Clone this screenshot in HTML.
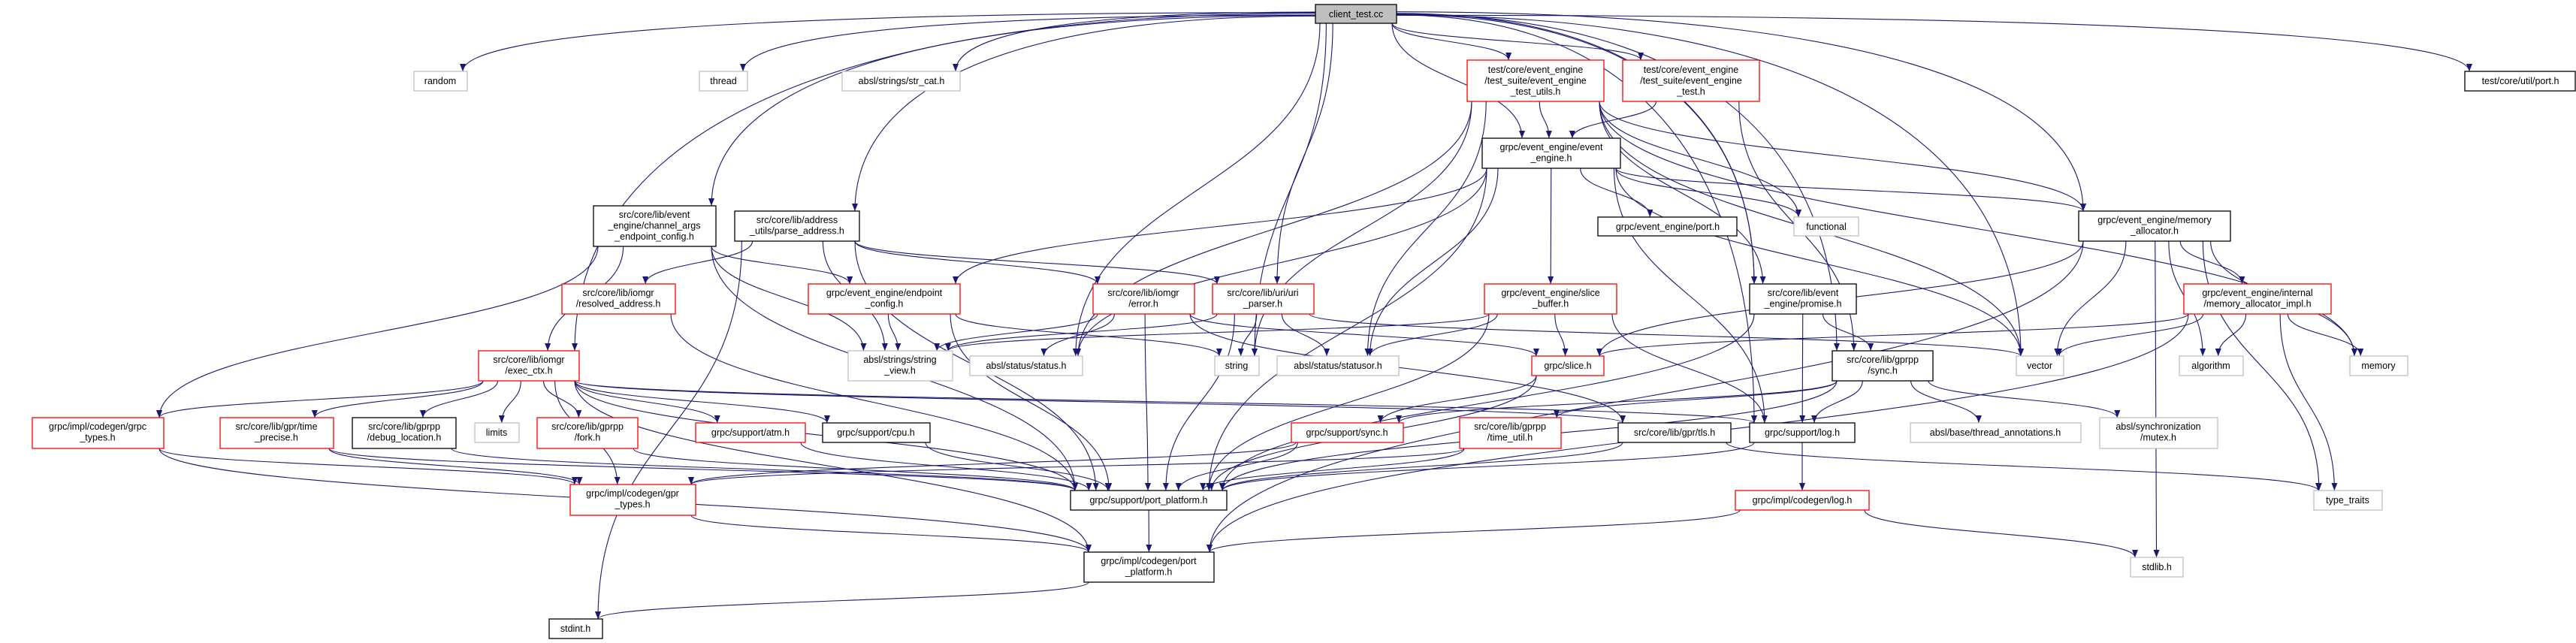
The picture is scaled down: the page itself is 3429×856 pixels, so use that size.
<!DOCTYPE html>
<html><head><meta charset="utf-8"><style>
html,body{margin:0;padding:0;background:#fff;}
svg{display:block;}
text{font-family:"Liberation Sans","DejaVu Sans",sans-serif;font-size:12.5px;fill:#000;}
.r{fill:#fff;stroke:#ff0000;stroke-width:1.3}
.b{fill:#fff;stroke:#000;stroke-width:1.3}
.g{fill:#fff;stroke:#bfbfbf;stroke-width:1.3}
.c{fill:#bfbfbf;stroke:#000;stroke-width:1.3}
</style></head><body>
<svg id="s" width="3429" height="856" viewBox="0 0 3429 856" xmlns="http://www.w3.org/2000/svg">
<defs><marker id="a" markerWidth="10" markerHeight="8" refX="10" refY="4" orient="auto" markerUnits="userSpaceOnUse"><path d="M0,0 L10,4 L0,8z" fill="#191970"/></marker></defs>
<g id="edges" fill="none" stroke="#191970" stroke-width="1.1"></g>
<g id="nodes">
<rect class="c" x="1751" y="6" width="108" height="25"/><text x="1805" y="23" text-anchor="middle">client_test.cc</text>
<rect class="g" x="551" y="95" width="71" height="26"/><text x="586" y="112" text-anchor="middle">random</text>
<rect class="g" x="931" y="95" width="64" height="26"/><text x="963" y="112" text-anchor="middle">thread</text>
<rect class="g" x="1121" y="95" width="157" height="26"/><text x="1200" y="112" text-anchor="middle">absl/strings/str_cat.h</text>
<rect class="b" x="3281" y="95" width="147" height="26"/><text x="3355" y="112" text-anchor="middle">test/core/util/port.h</text>
<rect class="r" x="1953" y="80" width="182" height="55"/><text x="2044" y="97" text-anchor="middle"><tspan x="2044">test/core/event_engine</tspan><tspan x="2044" dy="14.5">/test_suite/event_engine</tspan><tspan x="2044" dy="14.5">_test_utils.h</tspan></text>
<rect class="r" x="2160" y="80" width="182" height="55"/><text x="2251" y="97" text-anchor="middle"><tspan x="2251">test/core/event_engine</tspan><tspan x="2251" dy="14.5">/test_suite/event_engine</tspan><tspan x="2251" dy="14.5">_test.h</tspan></text>
<rect class="b" x="1973" y="184" width="184" height="40"/><text x="2065" y="200" text-anchor="middle"><tspan x="2065">grpc/event_engine/event</tspan><tspan x="2065" dy="14.5">_engine.h</tspan></text>
<rect class="b" x="790" y="274" width="163" height="54"/><text x="871" y="290" text-anchor="middle"><tspan x="871">src/core/lib/event</tspan><tspan x="871" dy="14.5">_engine/channel_args</tspan><tspan x="871" dy="14.5">_endpoint_config.h</tspan></text>
<rect class="b" x="978" y="281" width="166" height="40"/><text x="1061" y="297" text-anchor="middle"><tspan x="1061">src/core/lib/address</tspan><tspan x="1061" dy="14.5">_utils/parse_address.h</tspan></text>
<rect class="b" x="2127" y="289" width="185" height="25"/><text x="2220" y="306" text-anchor="middle">grpc/event_engine/port.h</text>
<rect class="g" x="2388" y="289" width="86" height="25"/><text x="2431" y="306" text-anchor="middle">functional</text>
<rect class="b" x="2767" y="281" width="202" height="40"/><text x="2868" y="297" text-anchor="middle"><tspan x="2868">grpc/event_engine/memory</tspan><tspan x="2868" dy="14.5">_allocator.h</tspan></text>
<rect class="r" x="748" y="378" width="151" height="40"/><text x="823" y="394" text-anchor="middle"><tspan x="823">src/core/lib/iomgr</tspan><tspan x="823" dy="14.5">/resolved_address.h</tspan></text>
<rect class="r" x="1076" y="378" width="202" height="40"/><text x="1177" y="394" text-anchor="middle"><tspan x="1177">grpc/event_engine/endpoint</tspan><tspan x="1177" dy="14.5">_config.h</tspan></text>
<rect class="r" x="1455" y="378" width="135" height="40"/><text x="1522" y="394" text-anchor="middle"><tspan x="1522">src/core/lib/iomgr</tspan><tspan x="1522" dy="14.5">/error.h</tspan></text>
<rect class="r" x="1614" y="378" width="135" height="40"/><text x="1681" y="394" text-anchor="middle"><tspan x="1681">src/core/lib/uri/uri</tspan><tspan x="1681" dy="14.5">_parser.h</tspan></text>
<rect class="r" x="1976" y="378" width="176" height="40"/><text x="2064" y="394" text-anchor="middle"><tspan x="2064">grpc/event_engine/slice</tspan><tspan x="2064" dy="14.5">_buffer.h</tspan></text>
<rect class="b" x="2329" y="378" width="142" height="40"/><text x="2400" y="394" text-anchor="middle"><tspan x="2400">src/core/lib/event</tspan><tspan x="2400" dy="14.5">_engine/promise.h</tspan></text>
<rect class="r" x="2907" y="378" width="196" height="40"/><text x="3005" y="394" text-anchor="middle"><tspan x="3005">grpc/event_engine/internal</tspan><tspan x="3005" dy="14.5">/memory_allocator_impl.h</tspan></text>
<rect class="r" x="637" y="467" width="134" height="40"/><text x="704" y="483" text-anchor="middle"><tspan x="704">src/core/lib/iomgr</tspan><tspan x="704" dy="14.5">/exec_ctx.h</tspan></text>
<rect class="g" x="1129" y="467" width="139" height="40"/><text x="1198" y="483" text-anchor="middle"><tspan x="1198">absl/strings/string</tspan><tspan x="1198" dy="14.5">_view.h</tspan></text>
<rect class="g" x="1291" y="474" width="150" height="26"/><text x="1366" y="491" text-anchor="middle">absl/status/status.h</text>
<rect class="g" x="1617" y="474" width="59" height="26"/><text x="1646" y="491" text-anchor="middle">string</text>
<rect class="g" x="1700" y="474" width="162" height="26"/><text x="1781" y="491" text-anchor="middle">absl/status/statusor.h</text>
<rect class="r" x="2039" y="474" width="96" height="26"/><text x="2087" y="491" text-anchor="middle">grpc/slice.h</text>
<rect class="b" x="2439" y="467" width="134" height="40"/><text x="2506" y="483" text-anchor="middle"><tspan x="2506">src/core/lib/gprpp</tspan><tspan x="2506" dy="14.5">/sync.h</tspan></text>
<rect class="g" x="2684" y="474" width="63" height="26"/><text x="2715" y="491" text-anchor="middle">vector</text>
<rect class="g" x="2901" y="474" width="85" height="26"/><text x="2943" y="491" text-anchor="middle">algorithm</text>
<rect class="g" x="3128" y="474" width="77" height="26"/><text x="3166" y="491" text-anchor="middle">memory</text>
<rect class="r" x="43" y="556" width="175" height="41"/><text x="130" y="572" text-anchor="middle"><tspan x="130">grpc/impl/codegen/grpc</tspan><tspan x="130" dy="14.5">_types.h</tspan></text>
<rect class="r" x="293" y="556" width="151" height="41"/><text x="368" y="572" text-anchor="middle"><tspan x="368">src/core/lib/gpr/time</tspan><tspan x="368" dy="14.5">_precise.h</tspan></text>
<rect class="b" x="469" y="556" width="138" height="41"/><text x="538" y="572" text-anchor="middle"><tspan x="538">src/core/lib/gprpp</tspan><tspan x="538" dy="14.5">/debug_location.h</tspan></text>
<rect class="g" x="632" y="563" width="59" height="26"/><text x="661" y="580" text-anchor="middle">limits</text>
<rect class="r" x="715" y="556" width="134" height="41"/><text x="782" y="572" text-anchor="middle"><tspan x="782">src/core/lib/gprpp</tspan><tspan x="782" dy="14.5">/fork.h</tspan></text>
<rect class="r" x="926" y="563" width="146" height="26"/><text x="999" y="580" text-anchor="middle">grpc/support/atm.h</text>
<rect class="b" x="1095" y="563" width="143" height="26"/><text x="1166" y="580" text-anchor="middle">grpc/support/cpu.h</text>
<rect class="r" x="1719" y="563" width="149" height="26"/><text x="1793" y="580" text-anchor="middle">grpc/support/sync.h</text>
<rect class="r" x="1943" y="556" width="135" height="41"/><text x="2010" y="572" text-anchor="middle"><tspan x="2010">src/core/lib/gprpp</tspan><tspan x="2010" dy="14.5">/time_util.h</tspan></text>
<rect class="b" x="2154" y="563" width="150" height="26"/><text x="2229" y="580" text-anchor="middle">src/core/lib/gpr/tls.h</text>
<rect class="b" x="2329" y="563" width="140" height="26"/><text x="2399" y="580" text-anchor="middle">grpc/support/log.h</text>
<rect class="g" x="2543" y="563" width="227" height="26"/><text x="2656" y="580" text-anchor="middle">absl/base/thread_annotations.h</text>
<rect class="g" x="2795" y="556" width="157" height="41"/><text x="2873" y="572" text-anchor="middle"><tspan x="2873">absl/synchronization</tspan><tspan x="2873" dy="14.5">/mutex.h</tspan></text>
<rect class="r" x="759" y="645" width="167" height="41"/><text x="842" y="661" text-anchor="middle"><tspan x="842">grpc/impl/codegen/gpr</tspan><tspan x="842" dy="14.5">_types.h</tspan></text>
<rect class="b" x="1425" y="653" width="208" height="26"/><text x="1529" y="670" text-anchor="middle">grpc/support/port_platform.h</text>
<rect class="r" x="2310" y="653" width="178" height="26"/><text x="2399" y="670" text-anchor="middle">grpc/impl/codegen/log.h</text>
<rect class="g" x="3080" y="653" width="91" height="26"/><text x="3125" y="670" text-anchor="middle">type_traits</text>
<rect class="b" x="1443" y="735" width="173" height="40"/><text x="1529" y="751" text-anchor="middle"><tspan x="1529">grpc/impl/codegen/port</tspan><tspan x="1529" dy="14.5">_platform.h</tspan></text>
<rect class="g" x="2836" y="742" width="70" height="26"/><text x="2871" y="759" text-anchor="middle">stdlib.h</text>
<rect class="b" x="731" y="824" width="71" height="26"/><text x="766" y="841" text-anchor="middle">stdint.h</text>
</g>
</svg>
<script>
var N={client:[1751,6,1859,31],random:[551,95,622,121],thread:[931,95,995,121],strcat:[1121,95,1278,121],uport:[3281,95,3428,121],
tu:[1953,80,2135,135],et:[2160,80,2342,135],ee:[1973,184,2157,224],ca:[790,274,953,328],pa:[978,281,1144,321],eport:[2127,289,2312,314],
fn:[2388,289,2474,314],ma:[2767,281,2969,321],res:[748,378,899,418],ep:[1076,378,1278,418],err:[1455,378,1590,418],uri:[1614,378,1749,418],
sb:[1976,378,2152,418],pr:[2329,378,2471,418],mi:[2907,378,3103,418],ex:[637,467,771,507],sv:[1129,467,1268,507],st:[1291,474,1441,500],
str:[1617,474,1676,500],sor:[1700,474,1862,500],sl:[2039,474,2135,500],gs:[2439,467,2573,507],vec:[2684,474,2747,500],alg:[2901,474,2986,500],
mem:[3128,474,3205,500],gt:[43,556,218,597],tp:[293,556,444,597],dl:[469,556,607,597],lim:[632,563,691,589],fork:[715,556,849,597],
atm:[926,563,1072,589],cpu:[1095,563,1238,589],ss:[1719,563,1868,589],tut:[1943,556,2078,597],tls:[2154,563,2304,589],log:[2329,563,2469,589],
ta:[2543,563,2770,589],mux:[2795,556,2952,597],gpt:[759,645,926,686],pp:[1425,653,1633,679],clog:[2310,653,2488,679],tt:[3080,653,3171,679],
cpp:[1443,735,1616,775],stdlib:[2836,742,2906,768],stdint:[731,824,802,850]};
var E="client random,client thread,client strcat,client ex,client ca,client pa,client st,client uri,client str,client ee,client tu,client et,client pr,client gs,client vec,client ma,client log,client uport,client pr,"+
"tu ee,tu st,tu str,tu fn,tu pr,tu mem,tu ma,tu sor,tu vec,et ee,et gs,"+
"ee ep,ee st,ee sor,ee sb,ee eport,ee fn,ee ma,ee vec,ee pp,ee log,"+
"ca gt,ca ep,ca sv,ca pp,ca ex,pa res,pa sv,pa err,pa uri,pa pp,pa stdint,res pp,ep sv,ep str,ep pp,"+
"err st,err pp,err sl,err tls,err sv,uri sv,uri str,uri sor,uri pp,uri vec,sb sv,sb sl,sb pp,sb log,sb sor,"+
"ex gt,ex tp,ex dl,ex lim,ex fork,ex atm,ex cpu,ex gpt,ex pp,ex log,ex tls,ex cpp,sl ss,sl pp,pr gs,pr log,pr pp,"+
"ma sl,ma vec,ma alg,ma mem,ma mi,ma tt,ma stdlib,ma cpp,mi sl,mi vec,mi alg,mi mem,mi tt,mi cpp,"+
"gs tut,gs log,gs ss,gs ta,gs mux,gs pp,gt gpt,gt cpp,tp gpt,tp pp,fork pp,atm pp,cpu pp,ss pp,ss gpt,tut pp,tut gpt,tls pp,tls tt,"+
"log pp,log clog,clog stdlib,clog cpp,gpt cpp,pp cpp,cpp stdint,dl pp";
var g=document.getElementById('edges'),h='';
E.split(',').forEach(function(p){var q=p.trim().split(' '),s=N[q[0]],t=N[q[1]];if(!s||!t)return;
var sc=(s[0]+s[2])/2,tc=(t[0]+t[2])/2;
var sx=sc+(tc-sc)*0.25;sx=Math.max(s[0]+6,Math.min(s[2]-6,sx));
var tx=tc+(sc-tc)*0.15;tx=Math.max(t[0]+6,Math.min(t[2]-6,tx));
var sy=s[3],ty=t[1];
if(q[0]=='client'&&Math.abs(tc-sc)>500){
 sx=tc<sc?s[0]:s[2];sy=(s[1]+s[3])/2+(Math.random()*6-3);
 h+='<path d="M'+sx+','+sy+' C'+(tx+(sx-tx)*0.3)+','+sy+' '+tx+','+(sy+(ty-sy)*0.4)+' '+tx+','+ty+'" marker-end="url(#a)"/>';return;}
if(ty<=sy+5){
 if(tc<sc){sx=s[0];tx=t[2];}else{sx=s[2];tx=t[0];}
 sy=(s[1]+s[3])/2;ty=(t[1]+t[3])/2;
 h+='<path d="M'+sx+','+sy+' C'+(sx+tx)/2+','+sy+' '+(sx+tx)/2+','+ty+' '+tx+','+ty+'" marker-end="url(#a)"/>';return;}
var m=(sy+ty)/2;
h+='<path d="M'+sx+','+sy+' C'+sx+','+m+' '+tx+','+m+' '+tx+','+ty+'" marker-end="url(#a)"/>';});
g.innerHTML=h;
</script>
</body></html>
